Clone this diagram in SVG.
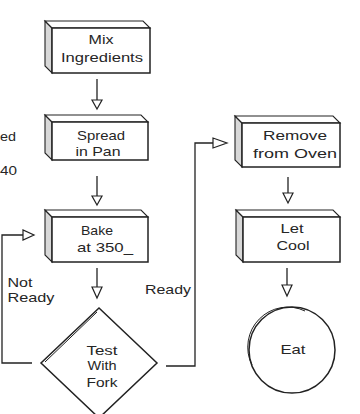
<svg xmlns="http://www.w3.org/2000/svg" width="360" height="414" viewBox="0 0 360 414">
<style>
text{font-family:"Liberation Sans",Arial,sans-serif;font-size:13px;fill:#262626;text-anchor:middle}
.ln{fill:none;stroke:#222;stroke-width:1.3}
.front{fill:#fff;stroke:#222;stroke-width:1.5}
.side{fill:#d8d8d8;stroke:#222;stroke-width:1.1}
.top{fill:#fff;stroke:#222;stroke-width:1.1}
.head{fill:#fff;stroke:#222;stroke-width:1.2}
</style>
<rect width="360" height="414" fill="#fff"/>
<g id="connectors">
<line class="ln" x1="97" y1="79" x2="97" y2="100"/>
<polygon class="head" points="92,100 102,100 97,109"/>
<line class="ln" x1="97" y1="176" x2="97" y2="196"/>
<polygon class="head" points="92,196 102,196 97,205"/>
<line class="ln" x1="97" y1="268" x2="97" y2="287"/>
<polygon class="head" points="92,287 102,287 97,298"/>
<line class="ln" x1="288" y1="177" x2="288" y2="193"/>
<polygon class="head" points="283,193 293,193 288,203"/>
<line class="ln" x1="287" y1="268" x2="287" y2="285"/>
<polygon class="head" points="282,285 292,285 287,296"/>
<polyline class="ln" points="32,363 2,363 2,235 23,235"/>
<polygon class="head" points="23,230 23,240 34,235"/>
<polyline class="ln" points="166,366 195,366 195,143 213,143"/>
<polygon class="head" points="213,138 213,148 227,143"/>
</g>
<g id="labels">
<text x="20" y="287" textLength="25" lengthAdjust="spacingAndGlyphs">Not</text>
<text x="31" y="302" textLength="47" lengthAdjust="spacingAndGlyphs">Ready</text>
<text x="168" y="294" textLength="46" lengthAdjust="spacingAndGlyphs">Ready</text>
<text x="16" y="141" textLength="16" lengthAdjust="spacingAndGlyphs" style="text-anchor:end">ed</text>
<text x="17" y="175" textLength="17" lengthAdjust="spacingAndGlyphs" style="text-anchor:end">40</text>
</g>
<g id="mix">
<polygon class="side" points="45,21 52,28 52,73 45,66"/>
<polygon class="top" points="45,21 143,21 150,28 52,28"/>
<rect class="front" x="52" y="28" width="98" height="45"/>
<text x="101" y="44" textLength="25" lengthAdjust="spacingAndGlyphs">Mix</text>
<text x="102" y="62" textLength="82" lengthAdjust="spacingAndGlyphs">Ingredients</text>
</g>
<g id="spread">
<polygon class="side" points="45,115 52,122 52,160 45,153"/>
<polygon class="top" points="45,115 141,115 148,122 52,122"/>
<rect class="front" x="52" y="122" width="96" height="38"/>
<text x="101" y="140" textLength="48" lengthAdjust="spacingAndGlyphs">Spread</text>
<text x="98" y="156" textLength="45" lengthAdjust="spacingAndGlyphs">in Pan</text>
</g>
<g id="bake">
<polygon class="side" points="45,210 52,217 52,262 45,255"/>
<polygon class="top" points="45,210 141,210 148,217 52,217"/>
<rect class="front" x="52" y="217" width="96" height="45"/>
<text x="97" y="235" textLength="32" lengthAdjust="spacingAndGlyphs">Bake</text>
<text x="105" y="252" textLength="56" lengthAdjust="spacingAndGlyphs">at 350_</text>
</g>
<g id="test">
<polygon class="front" points="99,308 157,363 99,418 41,363"/>
<line class="ln" x1="97" y1="312" x2="45" y2="362" style="stroke-width:1"/>
<text x="102" y="355" textLength="31" lengthAdjust="spacingAndGlyphs">Test</text>
<text x="102" y="370" textLength="29" lengthAdjust="spacingAndGlyphs">With</text>
<text x="102" y="387" textLength="31" lengthAdjust="spacingAndGlyphs">Fork</text>
</g>
<g id="remove">
<polygon class="side" points="235,116 242,123 242,167 235,160"/>
<polygon class="top" points="235,116 333,116 340,123 242,123"/>
<rect class="front" x="242" y="123" width="98" height="44"/>
<text x="295" y="140" textLength="64" lengthAdjust="spacingAndGlyphs">Remove</text>
<text x="295" y="158" textLength="84" lengthAdjust="spacingAndGlyphs">from Oven</text>
</g>
<g id="cool">
<polygon class="side" points="236,210 243,217 243,262 236,255"/>
<polygon class="top" points="236,210 333,210 340,217 243,217"/>
<rect class="front" x="243" y="217" width="97" height="45"/>
<text x="292" y="233" textLength="23" lengthAdjust="spacingAndGlyphs">Let</text>
<text x="293" y="250" textLength="33" lengthAdjust="spacingAndGlyphs">Cool</text>
</g>
<g id="eat">
<circle class="front" cx="292" cy="350" r="43"/>
<path class="ln" d="M252,365 A40,40 0 0 1 305,311" style="stroke-width:1"/>
<text x="293" y="354" textLength="25" lengthAdjust="spacingAndGlyphs">Eat</text>
</g>
</svg>
